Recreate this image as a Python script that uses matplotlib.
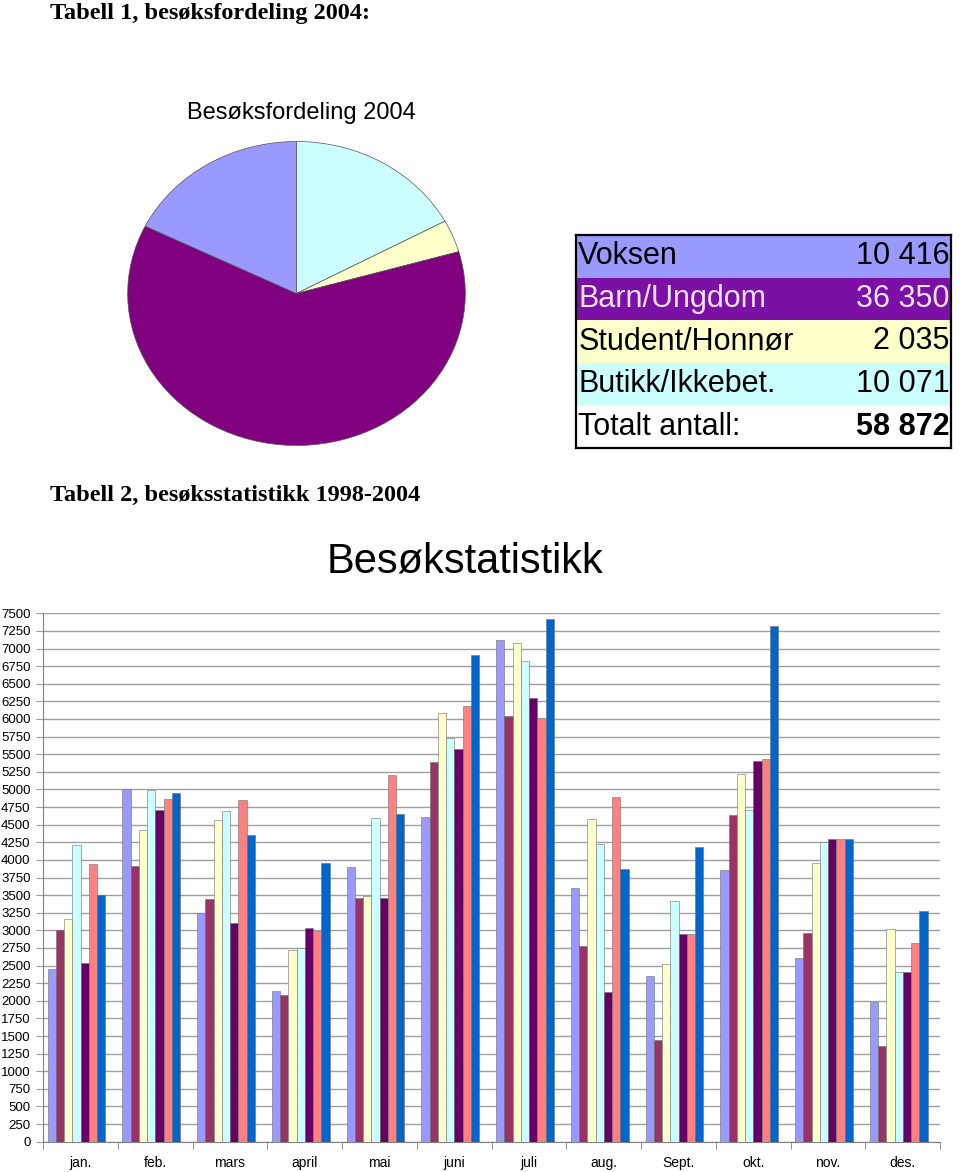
import matplotlib.pyplot as plt
import numpy as np

# Pie / table data (2004)
pie_labels = ["Voksen", "Barn/Ungdom", "Student/Honnør", "Butikk/Ikkebet."]
pie_values = [10416, 36350, 2035, 10071]
pie_colors = ["#9999FF", "#800080", "#FFFFCC", "#CCFFFF"]
row_colors = ["#9999FF", "#7B10A6", "#FFFFCC", "#CCFFFF"]
total_label = "Totalt antall:"

# Monthly visits 1998-2004
months = ["jan.", "feb.", "mars", "april", "mai", "juni", "juli",
          "aug.", "Sept.", "okt.", "nov.", "des."]
y1998 = [2450, 5000, 3250, 2140, 3905, 4605, 7120, 3605, 2350, 3855, 2610, 1980]
y1999 = [3000, 3910, 3445, 2080, 3460, 5385, 6045, 2780, 1450, 4640, 2960, 1365]
y2000 = [3160, 4420, 4565, 2720, 3485, 6080, 7080, 4575, 2525, 5215, 3960, 3025]
y2001 = [4210, 4985, 4700, 2745, 4590, 5730, 6820, 4225, 3420, 4715, 4250, 2415]
y2002 = [2530, 4715, 3105, 3035, 3455, 5580, 6295, 2130, 2950, 5400, 4300, 2405]
y2003 = [3935, 4860, 4845, 2985, 5200, 6190, 6015, 4890, 2950, 5425, 4300, 2825]
y2004 = [3500, 4955, 4360, 3960, 4655, 6905, 7415, 3865, 4190, 7320, 4300, 3275]
bar_colors = ["#9999FF", "#993366", "#FFFFCC", "#CCFFFF", "#660066", "#FF8080", "#0066CC"]


def fmt(n):
    return f"{n:,}".replace(",", " ")


W, H = 960, 1172
fig = plt.figure(figsize=(W / 100, H / 100), dpi=100)
sans = "Liberation Sans"
serif = "Liberation Serif"

# Headings
fig.text(50 / W, 1 - 13 / H, "Tabell 1, besøksfordeling 2004:", family=serif,
         weight="bold", fontsize=17.5, va="center", ha="left")
fig.text(50 / W, 1 - 495 / H, "Tabell 2, besøksstatistikk 1998-2004", family=serif,
         weight="bold", fontsize=17.5, va="center", ha="left")

# Pie chart
fig.text(301 / W, 1 - 113 / H, "Besøksfordeling 2004", family=sans,
         fontsize=17, va="center", ha="center")
ax_pie = fig.add_axes([126 / W, 1 - 447 / H, 341 / W, 307 / H])
order = [3, 2, 1, 0]
ax_pie.pie([pie_values[i] for i in order], colors=[pie_colors[i] for i in order],
           startangle=90, counterclock=False,
           wedgeprops=dict(edgecolor="#555555", linewidth=0.5))
ax_pie.set_aspect("auto")
ax_pie.set_xlim(-1.01, 1.01)
ax_pie.set_ylim(-1.01, 1.01)
ax_pie.axis("off")

# Table
ax_tab = fig.add_axes([576 / W, 1 - 448 / H, 375 / W, 213 / H])
ax_tab.set_xticks([])
ax_tab.set_yticks([])
for s in ax_tab.spines.values():
    s.set_linewidth(1.6)
    s.set_color("black")
    s.set_zorder(5)
cell_text = [[lab, fmt(v)] for lab, v in zip(pie_labels, pie_values)]
cell_text.append([total_label, fmt(sum(pie_values))])
cell_colours = [[c, c] for c in row_colors] + [["white", "white"]]
tab = ax_tab.table(cellText=cell_text, cellColours=cell_colours,
                   colWidths=[0.6, 0.4], bbox=[0, 0, 1, 1])
tab.auto_set_font_size(False)
for (r, c), cell in tab.get_celld().items():
    cell.set_edgecolor(cell.get_facecolor())
    cell.set_linewidth(0)
    cell.PAD = 0.01
    txt = cell.get_text()
    txt.set_fontfamily(sans)
    txt.set_fontsize(22)
    cell._loc = "left" if c == 0 else "right"
    txt.set_horizontalalignment("left" if c == 0 else "right")
    if r == 1:
        txt.set_color("#F8E2F6")
    if r == 4 and c == 1:
        txt.set_fontweight("bold")

# Bar chart
fig.text(465 / W, 1 - 562 / H, "Besøkstatistikk", family=sans,
         fontsize=30, va="center", ha="center")
ax = fig.add_axes([43 / W, 1 - 1141.7 / H, 897 / W, 528.4 / H])
series = [y1998, y1999, y2000, y2001, y2002, y2003, y2004]
x = np.arange(len(months))
bw = 0.110
start = -0.5 + 0.063
for i, (vals, col) in enumerate(zip(series, bar_colors)):
    ax.bar(x + start + bw * (i + 0.5), vals, width=bw, color=col,
           edgecolor="#707070", linewidth=0.4, zorder=3)

ax.set_xlim(-0.5, len(months) - 0.5)
ax.set_ylim(0, 7500)
ax.set_yticks(np.arange(0, 7501, 250))
ax.yaxis.grid(True, color="#A0A0A0", linewidth=1.0, zorder=0)
ax.set_xticks(x)
ax.set_xticklabels(months)
ax.set_xticks(np.arange(len(months) + 1) - 0.5, minor=True)
ax.tick_params(axis="x", which="major", length=0, pad=10)
ax.tick_params(axis="x", which="minor", length=5, color="#808080", direction="out")
ax.tick_params(axis="y", length=5, color="#A0A0A0", direction="out", pad=4)
for lab in ax.get_xticklabels():
    lab.set_fontfamily(sans)
    lab.set_fontsize(10)
for lab in ax.get_yticklabels():
    lab.set_fontfamily(sans)
    lab.set_fontsize(9.5)
for s in ["top", "right"]:
    ax.spines[s].set_visible(False)
for s in ["left", "bottom"]:
    ax.spines[s].set_color("#808080")

plt.savefig("out.png", dpi=100)
